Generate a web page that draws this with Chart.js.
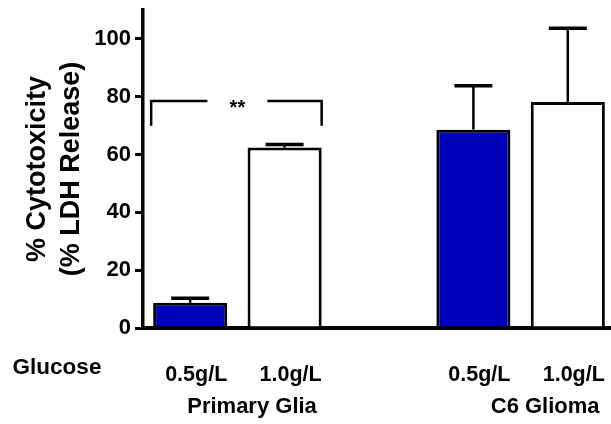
<!DOCTYPE html>
<html>
<head>
<meta charset="utf-8">
<script src="https://cdn.jsdelivr.net/npm/chart.js@4/dist/chart.umd.min.js"></script>
<style>
    body { margin: 0; background: #fff; }
    #wrap { width: 611px; height: 424px; position: relative; }
</style>
</head>
<body>
<div id="wrap"><canvas id="ldh"></canvas></div>
<script>
// glucose level per bar, the empty slot separates the two cell types
const labels = ['0.5g/L', '1.0g/L', '', '0.5g/L', '1.0g/L'];
const groupNames = ['Primary Glia', 'C6 Glioma'];
const cytotoxicity = [8.7, 62.4, null, 68.6, 78.2];
const errorTop = [10.3, 63.5, null, 83.8, 103.7];
const yTicks = [0, 20, 40, 60, 80, 100];
const signif = { from: 0, to: 1, text: '**' };

const FONT = "'Liberation Sans', Arial, sans-serif";
const blue = '#0000bb';

function noPad(scale) {
    scale.paddingLeft = 0;
    scale.paddingRight = 0;
    scale.paddingTop = 0;
    scale.paddingBottom = 0;
}

// the x axis runs a little past the right edge in the original
const stretch = {
    id: 'stretch',
    afterLayout(chart) {
        const x = chart.scales.x;
        x.right += 4;
        x.width += 4;
        chart.chartArea.right += 4;
        chart.chartArea.width += 4;
        x.configure();
    }
};

const extras = {
    id: 'extras',
    afterDatasetsDraw(chart) {
        const { ctx, scales: { x, y } } = chart;
        const bars = chart.getDatasetMeta(0).data;
        ctx.save();
        ctx.strokeStyle = '#000';
        ctx.fillStyle = '#000';

        // error bars (upper only)
        errorTop.forEach((v, i) => {
            if (v == null) return;
            const b = bars[i];
            const top = y.getPixelForValue(v);
            ctx.lineWidth = 2.5;
            ctx.beginPath();
            ctx.moveTo(b.x, b.y);
            ctx.lineTo(b.x, top);
            ctx.stroke();
            ctx.lineWidth = 3.5;
            ctx.beginPath();
            ctx.moveTo(b.x - 19, top);
            ctx.lineTo(b.x + 19, top);
            ctx.stroke();
        });

        // significance bracket
        const b0 = bars[signif.from], b1 = bars[signif.to];
        const xl = b0.x - b0.width / 2 - 2;
        const xr = b1.x + b1.width / 2;
        const yTop = y.getPixelForValue(78.5);
        const yLeg = y.getPixelForValue(70);
        const mid = (xl + xr) / 2 + 1;
        ctx.lineWidth = 2.5;
        ctx.beginPath();
        ctx.moveTo(xl, yLeg);
        ctx.lineTo(xl, yTop);
        ctx.lineTo(mid - 30, yTop);
        ctx.moveTo(mid + 30, yTop);
        ctx.lineTo(xr, yTop);
        ctx.lineTo(xr, yLeg);
        ctx.stroke();
        ctx.font = 'bold 20px ' + FONT;
        ctx.textAlign = 'center';
        ctx.textBaseline = 'alphabetic';
        ctx.fillText(signif.text, mid, yTop + 13);

        // category text under the axis
        ctx.font = 'bold 22.5px ' + FONT;
        ctx.fillText('Glucose', chart.chartArea.left - 86, 374);
        ctx.font = 'bold 22px ' + FONT;
        ctx.fillText(groupNames[0], x.getPixelForValue(0.655), 413);
        ctx.fillText(groupNames[1], x.getPixelForValue(3.76), 413);
        ctx.restore();
    }
};

new Chart(document.getElementById('ldh'), {
    type: 'bar',
    data: {
        labels: labels,
        datasets: [{
            data: cytotoxicity,
            backgroundColor: [blue, '#fff', '#fff', blue, '#fff'],
            borderColor: '#000',
            borderWidth: 3,
            barPercentage: 0.785,
            categoryPercentage: 1,
        }],
    },
    options: {
        responsive: true,
        maintainAspectRatio: false,
        animation: false,
        layout: { padding: { top: 10, right: 0, left: 0, bottom: 0 } },
        plugins: { legend: { display: false }, tooltip: { enabled: false } },
        scales: {
            x: {
                grid: { display: false },
                border: { display: true, color: '#000', width: 4 },
                ticks: {
                    color: '#000',
                    font: { family: FONT, size: 21.5, weight: 'bold' },
                    padding: 26,
                    labelOffset: 6,
                    autoSkip: false,
                    maxRotation: 0,
                },
                afterFit(scale) { scale.height = 96; noPad(scale); },
            },
            y: {
                min: 0,
                max: 110,
                grid: {
                    drawOnChartArea: false,
                    color: '#000',
                    lineWidth: 3,
                    tickLength: 8,
                },
                border: { display: true, color: '#000', width: 3.5 },
                ticks: {
                    color: '#000',
                    font: { family: FONT, size: 22, weight: 'bold' },
                    padding: 4,
                },
                afterBuildTicks(scale) {
                    scale.ticks = yTicks.map(v => ({ value: v }));
                },
                title: {
                    display: true,
                    text: ['% Cytotoxicity', '(% LDH Release)'],
                    color: '#000',
                    font: { family: FONT, size: 27, weight: 'bold', lineHeight: 1.26 },
                    padding: { top: 21, bottom: 0 },
                },
                afterFit(scale) { scale.width = 143; noPad(scale); },
            },
        },
    },
    plugins: [stretch, extras],
});
</script>
</body>
</html>
